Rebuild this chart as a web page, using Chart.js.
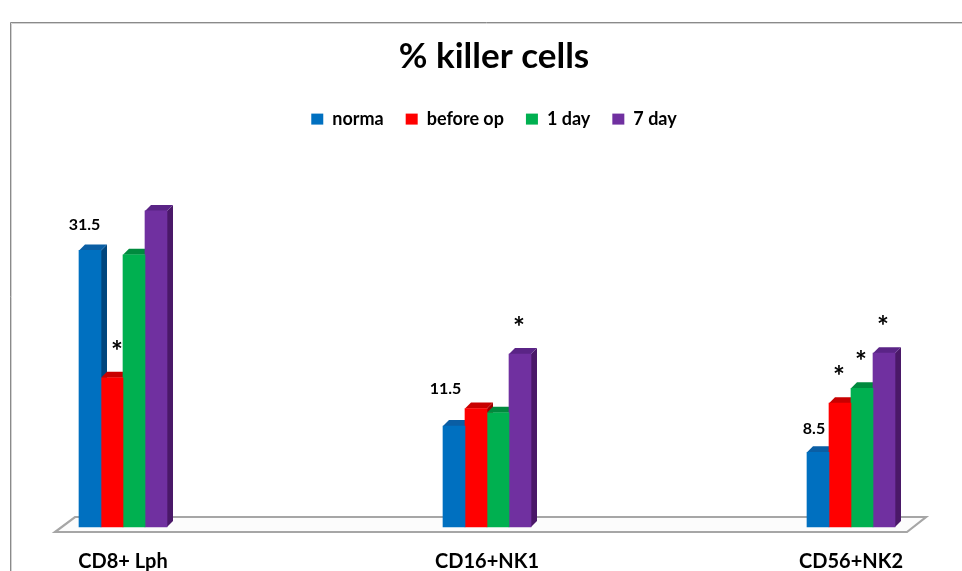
<!DOCTYPE html>
<html><head><meta charset="utf-8">
<script src="https://cdn.jsdelivr.net/npm/chart.js@4.4.1/dist/chart.umd.min.js"></script>
<style>html,body{margin:0;padding:0;background:#fff;overflow:hidden}</style>
</head><body>
<canvas id="c" width="962" height="571"></canvas>
<script>
// ---- data ----
const categories = ['CD8+ Lph', 'CD16+NK1', 'CD56+NK2'];
const seriesNames = ['norma', 'before op', '1 day', '7 day'];
const normaValues = [31.5, 11.5, 8.5];
const beforeOpValues = [17, 13.5, 14.1];
const day1Values = [31, 13, 15.8];
const day7Values = [36, 19.7, 19.8];
const normaNotes = ['31.5', '11.5', '8.5'];
const beforeOpNotes = ['*', '', '*'];
const day1Notes = ['', '', '*'];
const day7Notes = ['', '*', '*'];

// ---- style ----
const frontColors = ['#0070C0', '#FF0000', '#00B050', '#7030A0'];
const topColors = ['#0A5EA4', '#C80000', '#008A3E', '#5A2486'];
const sideColors = ['#00467E', '#9E0000', '#006B30', '#4A1868'];
const depth = 6;
const numberOffsets = [{dx: -5.5, dy: -26}, {dx: -8.5, dy: -37}, {dx: -4, dy: -24}];
const starOffsets = [5, -1, -1];

const allValues = [normaValues, beforeOpValues, day1Values, day7Values];
const allNotes = [normaNotes, beforeOpNotes, day1Notes, day7Notes];

Chart.defaults.font.family = 'Lato';
Chart.defaults.color = '#000';

const frame = {
  id: 'frame',
  beforeDraw(chart) {
    const ctx = chart.ctx;
    ctx.save();
    ctx.lineWidth = 1;
    ctx.strokeStyle = '#8a8a8a';
    ctx.beginPath(); ctx.moveTo(10.5, 571); ctx.lineTo(10.5, 22.5); ctx.lineTo(962, 22.5); ctx.stroke();
    ctx.strokeStyle = '#d2d2d2';
    ctx.beginPath(); ctx.moveTo(11.5, 571); ctx.lineTo(11.5, 23.5); ctx.lineTo(962, 23.5); ctx.stroke();
    ctx.restore();
  }
};

const threeD = {
  id: 'threeD',
  beforeDatasetsDraw(chart) {
    const ctx = chart.ctx;
    const xs = chart.scales.x;
    const base = chart.scales.y.getPixelForValue(0);
    const fl = xs.getPixelForValue(0) - 68;
    const fr = xs.getPixelForValue(categories.length - 1) + 56;
    ctx.save();
    ctx.beginPath();
    ctx.moveTo(fl, base + 5); ctx.lineTo(fr, base + 5);
    ctx.lineTo(fr + 19, base - 10); ctx.lineTo(fl + 20, base - 10); ctx.closePath();
    ctx.fillStyle = '#fcfcfc'; ctx.fill();
    ctx.strokeStyle = '#a6a6a6'; ctx.lineWidth = 2.2; ctx.stroke();
    chart.data.datasets.forEach((ds, di) => {
      const meta = chart.getDatasetMeta(di);
      meta.data.forEach(bar => {
        const l = bar.x - bar.width / 2, r = bar.x + bar.width / 2, t = bar.y, b = bar.base;
        ctx.fillStyle = sideColors[di];
        ctx.beginPath(); ctx.moveTo(r, t); ctx.lineTo(r + depth, t - depth);
        ctx.lineTo(r + depth, b - depth); ctx.lineTo(r, b); ctx.closePath(); ctx.fill();
        ctx.fillStyle = topColors[di];
        ctx.beginPath(); ctx.moveTo(l, t); ctx.lineTo(l + depth, t - depth);
        ctx.lineTo(r + depth, t - depth); ctx.lineTo(r, t); ctx.closePath(); ctx.fill();
      });
    });
    ctx.restore();
  },
  afterDatasetsDraw(chart) {
    const ctx = chart.ctx;
    ctx.save();
    ctx.fillStyle = '#000';
    ctx.textAlign = 'center';
    chart.data.datasets.forEach((ds, di) => {
      const meta = chart.getDatasetMeta(di);
      meta.data.forEach((bar, ci) => {
        const note = allNotes[di][ci];
        if (!note) return;
        if (note === '*') {
          ctx.font = 'bold 28px Lato';
          ctx.textBaseline = 'alphabetic';
          ctx.fillText(note, bar.x + starOffsets[ci], bar.y - 17);
        } else {
          ctx.font = 'bold 16px Lato';
          ctx.textBaseline = 'middle';
          ctx.fillText(note, bar.x + numberOffsets[ci].dx, bar.y + numberOffsets[ci].dy);
        }
      });
    });
    ctx.restore();
  }
};

new Chart(document.getElementById('c'), {
  type: 'bar',
  data: {
    labels: categories,
    datasets: seriesNames.map((name, i) => ({
      label: name,
      data: allValues[i],
      backgroundColor: frontColors[i],
      borderWidth: 0,
      barThickness: 22,
      clip: false
    }))
  },
  options: {
    responsive: false,
    animation: false,
    events: [],
    layout: { padding: { left: 123, right: 97, top: 0, bottom: 0 } },
    plugins: {
      title: {
        display: true,
        text: '% killer cells',
        font: { size: 35, weight: 'bold' },
        padding: { top: 35.6, bottom: 10.5 },
        color: '#000'
      },
      legend: {
        display: true,
        labels: {
          boxWidth: 12, boxHeight: 11, padding: 22,
          font: { size: 18, weight: 'bold' }, color: '#000'
        }
      },
      tooltip: { enabled: false }
    },
    scales: {
      x: {
        offset: false,
        grid: { display: false, drawTicks: false },
        border: { display: false },
        ticks: { padding: 23, font: { size: 20, weight: 'bold' }, color: '#000', maxRotation: 0, autoSkip: false },
        afterFit: s => { s.height = 44; }
      },
      y: {
        position: 'right',
        min: 0, max: 44.29,
        grid: { display: false, drawTicks: false },
        border: { display: false },
        ticks: { display: false },
        afterFit: s => { s.height = s.height; s.width = 14; }
      }
    }
  },
  plugins: [frame, threeD]
});
</script>
</body></html>
